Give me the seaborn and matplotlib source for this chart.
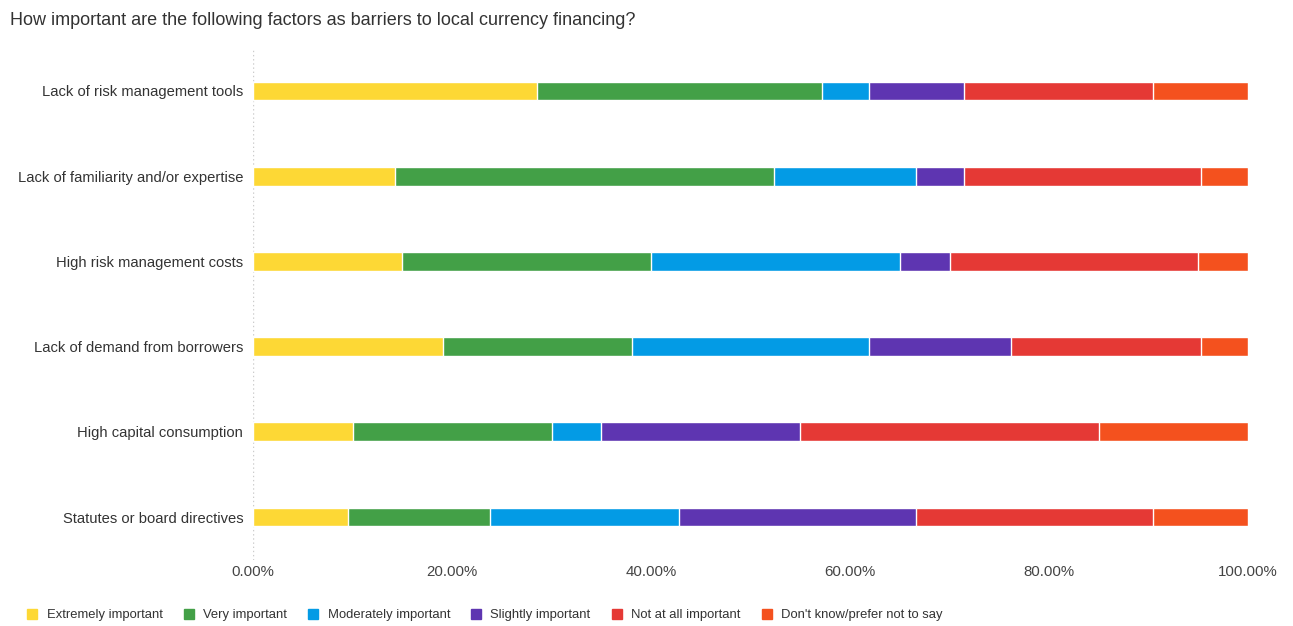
import matplotlib
matplotlib.use("Agg")
import matplotlib.pyplot as plt
import matplotlib.lines as mlines
import seaborn as sns
import pandas as pd
import numpy as np

categories = [
    "Lack of risk management tools",
    "Lack of familiarity and/or expertise",
    "High risk management costs",
    "Lack of demand from borrowers",
    "High capital consumption",
    "Statutes or board directives",
]
series_names = [
    "Extremely important",
    "Very important",
    "Moderately important",
    "Slightly important",
    "Not at all important",
    "Don't know/prefer not to say",
]
extremely = [28.57, 14.29, 15.00, 19.05, 10.00, 9.52]
very = [28.57, 38.10, 25.00, 19.05, 20.00, 14.29]
moderately = [4.76, 14.29, 25.00, 23.81, 5.00, 19.05]
slightly = [9.52, 4.76, 5.00, 14.29, 20.00, 23.81]
not_at_all = [19.05, 23.81, 25.00, 19.05, 30.00, 23.81]
dont_know = [9.52, 4.76, 5.00, 4.76, 15.00, 9.52]
colors = ["#FDD835", "#43A047", "#039BE5", "#5E35B1", "#E53935", "#F4511E"]
xticks = [0, 20, 40, 60, 80, 100]

series = [extremely, very, moderately, slightly, not_at_all, dont_know]

sns.set_theme(style="white")
plt.rcParams["font.family"] = ["Liberation Sans", "DejaVu Sans"]

fig = plt.figure(figsize=(12.93, 6.26), dpi=100)
ax = fig.add_axes([0.1957, 0.106, 0.7695, 0.8167])

cum = np.cumsum(np.array(series), axis=0)
# draw from rightmost cumulative to leftmost so segments overlay
for i in range(len(series) - 1, -1, -1):
    df = pd.DataFrame({"category": categories, "value": cum[i]})
    sns.barplot(data=df, y="category", x="value", color=colors[i],
                orient="h", width=0.22, edgecolor="white", linewidth=1.0,
                saturation=1, ax=ax, zorder=3)

ax.axvline(0, color="#cccccc", linestyle=(0, (1, 2)), linewidth=1.0, zorder=1)
ax.set_xlim(0, 100)
ax.set_ylim(5.5, -0.5)
ax.set_xticks(xticks)
ax.set_xticklabels([f"{t:.2f}%" for t in xticks], fontsize=10.8, color="#444444")
ax.tick_params(axis="y", labelsize=10.6, labelcolor="#333333", length=0, pad=7)
ax.tick_params(axis="x", length=0, pad=4)
ax.set_xlabel("")
ax.set_ylabel("")
for s in ax.spines.values():
    s.set_visible(False)

fig.text(0.0077, 0.967, "How important are the following factors as barriers to local currency financing?",
         fontsize=13, color="#333333", ha="left", va="center")

handles = [mlines.Line2D([], [], marker="s", linestyle="", markersize=7.5,
                         markerfacecolor=c, markeredgecolor=c) for c in colors]
fig.legend(handles, series_names, loc="center left", bbox_to_anchor=(0.014, 0.017),
           ncol=6, frameon=False, fontsize=9.4, handlelength=0.8, handletextpad=0.7,
           columnspacing=1.6, borderpad=0.2, labelcolor="#333333")

fig.savefig("out.png", dpi=100)
